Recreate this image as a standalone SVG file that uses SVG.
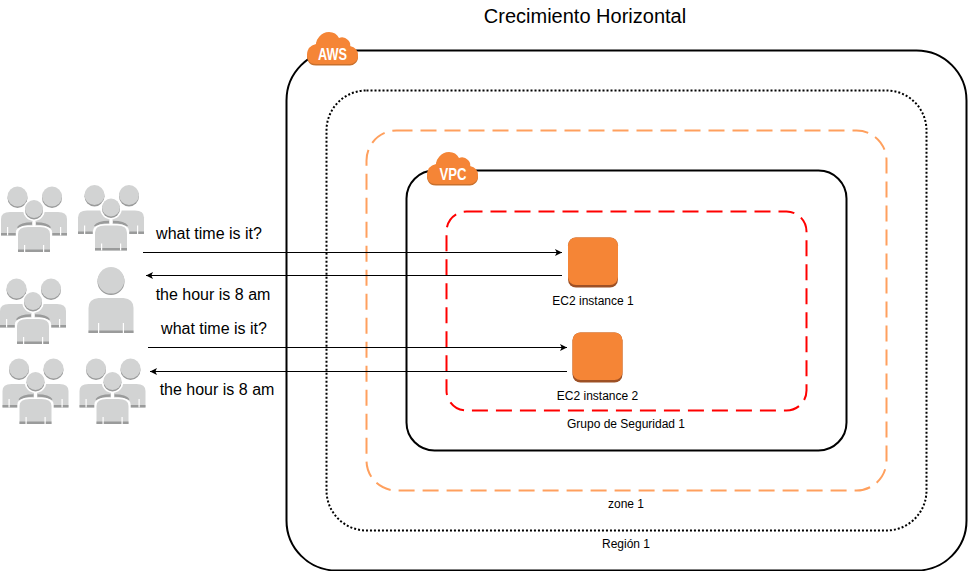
<svg xmlns="http://www.w3.org/2000/svg" width="968" height="571" viewBox="0 0 968 571">
<style>
text{font-family:"Liberation Sans",Arial,sans-serif;fill:#000}
.t12{font-size:12px;text-anchor:middle}.t16{font-size:16px;text-anchor:middle}
.box{fill:none}
.conn{fill:none;stroke:#000;stroke-width:1}
.cloudlabel{fill:#fff;font-size:17px;text-anchor:middle;font-weight:700}
.lt{fill:#d2d3d3}.dk{fill:#9a9b9b}.wh{fill:#fff}
.arc{fill:none;stroke:#9a9b9b;stroke-width:2.500}
</style>
<defs>
<marker id="arrow" markerWidth="8" markerHeight="8" refX="7" refY="3.5" orient="auto" markerUnits="userSpaceOnUse"><path d="M0,0 L7,3.5 L0,7 L1.700,3.500 Z" fill="#000"/></marker>
<path id="cloudshape" d="M4,31 Q0,28 0,23 Q0,14 9,12 Q9,8 12,5 Q16,0 22,0 Q29,0 32,6 Q37,4 41,8 Q44,11 43,14 Q51,16 51,23 Q51,28 48,30 Q46,32 43,32 H9 Q6,32 4,31 Z"/>
<g id="cloud">
<use href="#cloudshape" y="1.500" fill="#c9702c"/>
<use href="#cloudshape" fill="#f58536"/>
</g>
<g id="ec2"><rect x="0" y="0" width="50" height="50" rx="8" fill="#9d5025"/><rect x="0" y="0" width="50" height="47.500" rx="8" fill="#f58536"/></g>
<g id="person">
<path d="M0,65 V40 Q0,31 10,30 H35 Q45,31 45,40 V65 Z" class="lt"/>
<rect x="0" y="62.500" width="45" height="2.500" class="dk"/>
<rect x="9.500" y="55" width="1.200" height="10" class="wh"/><rect x="34.300" y="55" width="1.200" height="10" class="wh"/>
<circle cx="22.500" cy="13.500" r="13.500" class="dk"/><circle cx="22.500" cy="12.300" r="13.300" class="lt"/>
</g>
<path id="cbody" d="M17,66 V48 Q17,41 27,41 H39 Q49,41 49,48 V66 Z"/>
<g id="users">
<circle cx="16.500" cy="12" r="10" class="dk"/><circle cx="16.500" cy="10.500" r="10" class="lt"/>
<circle cx="51" cy="12" r="10" class="dk"/><circle cx="51" cy="10.500" r="10" class="lt"/>
<path d="M0,49.500 V33 Q0,26 9,26 H57 Q66,26 66,33 V49.500 Z" class="lt"/>
<rect x="0" y="47" width="66" height="2.500" class="dk"/>
<rect x="6" y="41" width="1.200" height="8.500" class="wh"/><rect x="59" y="41" width="1.200" height="8.500" class="wh"/>
<path class="arc" d="M17,42 Q20,37.500 31,37.500 M49,42 Q46,37.500 35,37.500"/>
<path d="M14.800,50 V47 Q15,39.500 27,39.500 H39 Q51,39.500 51.200,47 V50 Z" class="wh"/>
<rect x="31.500" y="34" width="3" height="7" class="wh"/>
<circle cx="33" cy="24" r="10.800" class="wh"/><circle cx="33" cy="24.500" r="9" class="dk"/><circle cx="33" cy="23" r="9" class="lt"/>
<use href="#cbody" class="lt"/>
<rect x="17" y="63.500" width="32" height="2.500" class="dk"/>
<rect x="23" y="59" width="1.200" height="7" class="wh"/><rect x="42" y="59" width="1.200" height="7" class="wh"/>
</g>
</defs>
<rect width="968" height="571" fill="#fff"/>
<text id="title" x="585" y="23" font-size="20" text-anchor="middle">Crecimiento Horizontal</text>
<g id="region"><rect class="box" x="286.500" y="50.500" width="680" height="520" rx="50" stroke="#000" stroke-width="2"/><text class="t12" x="626" y="548">Región 1</text></g>
<g id="zone"><rect class="box" x="326.500" y="90.500" width="600" height="440" rx="40" stroke="#000" stroke-width="2" stroke-dasharray="2 2"/><text class="t12" x="626" y="508">zone 1</text></g>
<g id="subnet"><rect class="box" x="366.500" y="130.500" width="520" height="360" rx="30" stroke="#ffa05e" stroke-width="2" stroke-dasharray="16 8"/></g>
<g id="vpc"><rect class="box" x="406.500" y="170.500" width="440" height="280" rx="28" stroke="#000" stroke-width="2"/></g>
<g id="security-group"><rect class="box" x="446.500" y="211.500" width="360" height="199" rx="20" stroke="#f00" stroke-width="2" stroke-dasharray="16 8"/><text class="t12" x="626" y="428">Grupo de Seguridad 1</text></g>
<g id="aws"><use href="#cloud" x="307" y="32"/><text class="cloudlabel" x="332.500" y="60" textLength="29" lengthAdjust="spacingAndGlyphs">AWS</text></g>
<g id="vpc-icon"><use href="#cloud" x="427" y="152"/><text class="cloudlabel" x="453" y="180" textLength="27" lengthAdjust="spacingAndGlyphs">VPC</text></g>
<g id="ec2-1"><use href="#ec2" x="568" y="237.500"/><text class="t12" x="593" y="305">EC2 instance 1</text></g>
<g id="ec2-2"><use href="#ec2" x="572.500" y="332.500"/><text class="t12" x="597.500" y="400">EC2 instance 2</text></g>
<g id="users-1"><use href="#users" x="1" y="186"/></g>
<g id="users-2"><use href="#users" x="78" y="184.500"/></g>
<g id="users-3"><use href="#users" x="0" y="278"/></g>
<g id="user-4"><use href="#person" x="88.500" y="268"/></g>
<g id="users-5"><use href="#users" x="2.500" y="358"/></g>
<g id="users-6"><use href="#users" x="79.500" y="358"/></g>
<g id="connectors">
<path class="conn" d="M143,252.500 H562" marker-end="url(#arrow)"/>
<path class="conn" d="M562,275.500 H146" marker-end="url(#arrow)"/>
<path class="conn" d="M148,347.500 H567" marker-end="url(#arrow)"/>
<path class="conn" d="M567,371.500 H150" marker-end="url(#arrow)"/>
</g>
<g id="labels">
<text class="t16" x="209" y="239">what time is it?</text>
<text class="t16" x="213" y="300">the hour is 8 am</text>
<text class="t16" x="214" y="334">what time is it?</text>
<text class="t16" x="217" y="395">the hour is 8 am</text>
</g>
</svg>
